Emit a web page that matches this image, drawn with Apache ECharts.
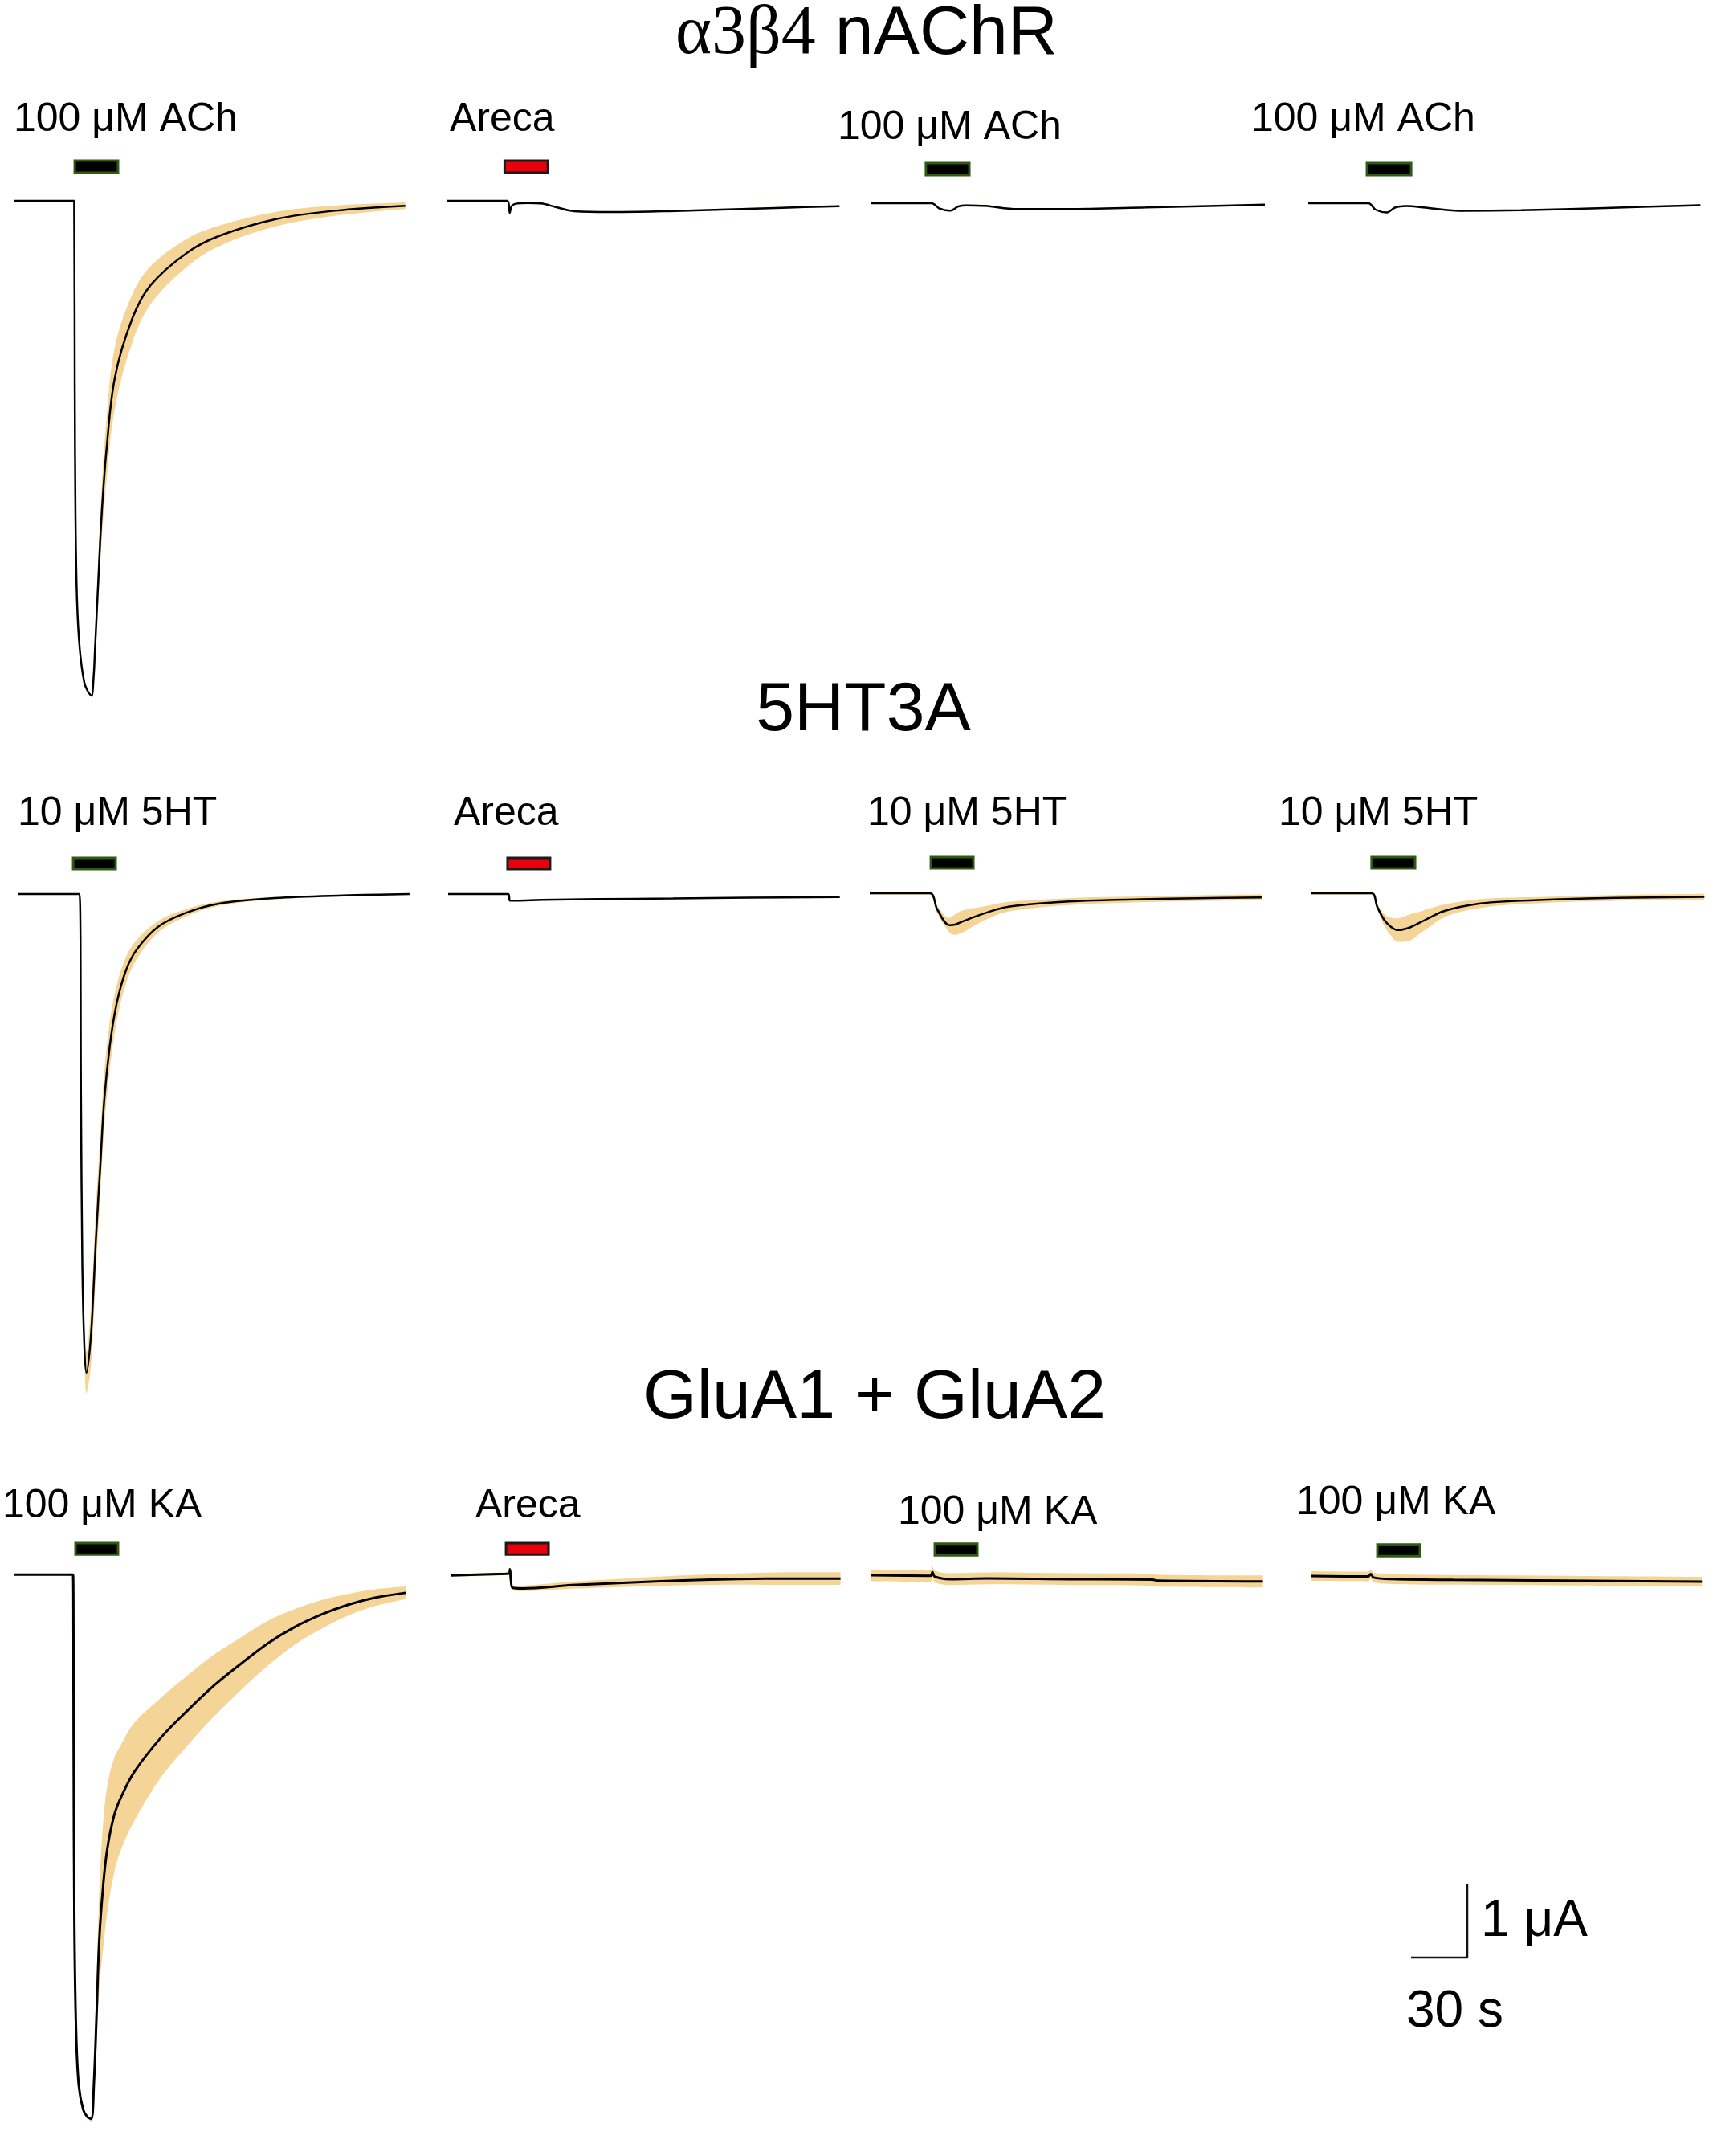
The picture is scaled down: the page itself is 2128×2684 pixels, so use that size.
<!DOCTYPE html>
<html><head><meta charset="utf-8">
<script src="https://cdn.jsdelivr.net/npm/echarts@6/dist/echarts.min.js"></script>
<style>html,body{margin:0;padding:0;background:#fff}#c{width:2128px;height:2684px}</style>
</head><body><div id="c"></div>
<script>
// ===== DATA (time in s from trace start, current in µA, mean and SEM) =====
// Row 1: α3β4 nAChR
const r1p1_t    = [0, 32.3, 32.6, 33.0, 33.8, 35.3, 37.7, 39.8, 41.5, 42.7, 43.4, 45.1, 46.9, 49.5, 54.0, 63.3, 73.2, 93.1, 110.2, 140.0, 171.3, 209.0];
const r1p1_mean = [0, 0, -2.51, -4.32, -5.46, -6.14, -6.59, -6.72, -6.77, -6.50, -6.14, -5.23, -4.32, -3.42, -2.42, -1.61, -1.15, -0.70, -0.475, -0.25, -0.136, -0.068];
const r1p1_sem  = [0, 0, 0, 0, 0, 0, 0, 0, 0.02, 0.06, 0.12, 0.26, 0.36, 0.42, 0.42, 0.33, 0.26, 0.19, 0.14, 0.1, 0.07, 0.045];
const r1p2_t    = [0, 32.1, 33.3, 34.3, 37.1, 42.9, 50.0, 57.1, 64.3, 71.4, 92.9, 121.4, 150.0, 178.6, 209.3];
const r1p2_mean = [0, 0, -0.165, -0.073, -0.037, -0.03, -0.037, -0.08, -0.128, -0.147, -0.154, -0.139, -0.117, -0.095, -0.073];
const r1p2_sem  = [0, 0, 0.01, 0.012, 0.012, 0.012, 0.012, 0.012, 0.012, 0.012, 0.012, 0.012, 0.012, 0.012, 0.012];
const r1p3_t    = [0, 32.1, 36.4, 42.1, 46.4, 50.7, 60.7, 77.9, 103.6, 146.4, 210.0];
const r1p3_mean = [0, 0, -0.073, -0.103, -0.044, -0.029, -0.037, -0.081, -0.081, -0.059, -0.018];
const r1p3_sem  = [0, 0, 0.01, 0.012, 0.012, 0.012, 0.012, 0.012, 0.012, 0.01, 0.01];
const r1p4_t    = [0, 32.1, 35.9, 41.9, 46.4, 52.4, 61.4, 80.8, 113.7, 158.5, 209.3];
const r1p4_mean = [0, 0, -0.088, -0.127, -0.058, -0.038, -0.058, -0.104, -0.096, -0.065, -0.027];
const r1p4_sem  = [0, 0, 0.01, 0.012, 0.012, 0.012, 0.012, 0.012, 0.012, 0.01, 0.01];
// Row 2: 5HT3A
const r2p1_t    = [0, 33.0, 33.8, 34.5, 35.6, 36.7, 38.9, 40.4, 41.8, 44.0, 46.2, 49.2, 52.8, 58.0, 63.8, 74.8, 89.5, 107.9, 137.2, 173.9, 209.1];
const r2p1_mean = [0, 0, -2.82, -5.08, -6.2, -6.55, -6.11, -5.45, -4.70, -3.76, -2.82, -2.07, -1.50, -1.03, -0.75, -0.45, -0.26, -0.13, -0.056, -0.019, 0];
const r2p1_sem  = [0, 0, 0, 0, 0.12, 0.28, 0.4, 0.45, 0.45, 0.42, 0.38, 0.32, 0.25, 0.18, 0.13, 0.08, 0.05, 0.03, 0.015, 0.01, 0.01];
const r2p2_t    = [0, 32.1, 33.0, 36.0, 50.0, 80.0, 120.0, 160.0, 209.0];
const r2p2_mean = [0, 0, -0.09, -0.09, -0.08, -0.07, -0.06, -0.05, -0.04];
const r2p2_sem  = [0, 0, 0.01, 0.01, 0.01, 0.01, 0.01, 0.01, 0.01];
const r2p3_t    = [0, 32.1, 36.0, 42.5, 45.5, 50.0, 55.9, 63.0, 70.8, 80.0, 94.6, 115.4, 145.1, 174.9, 209.1];
const r2p3_mean = [0, 0, -0.22, -0.436, -0.428, -0.38, -0.322, -0.26, -0.2, -0.165, -0.133, -0.102, -0.083, -0.068, -0.057];
const r2p3_sem  = [0.02, 0.02, 0.05, 0.1, 0.14, 0.15, 0.12, 0.09, 0.07, 0.06, 0.05, 0.045, 0.04, 0.04, 0.04];
const r2p4_t    = [0, 32.1, 35.0, 38.7, 42.0, 46.1, 52.0, 58.0, 63.9, 70.0, 78.8, 90.0, 102.6, 132.3, 162.1, 209.7];
const r2p4_mean = [0, 0, -0.18, -0.36, -0.45, -0.504, -0.473, -0.40, -0.322, -0.25, -0.189, -0.14, -0.114, -0.083, -0.064, -0.049];
const r2p4_sem  = [0.02, 0.02, 0.04, 0.08, 0.12, 0.16, 0.18, 0.15, 0.12, 0.09, 0.07, 0.06, 0.05, 0.04, 0.04, 0.04];
// Row 3: GluA1 + GluA2
const r3p1_t    = [0, 31.7, 32.0, 32.4, 33.3, 34.7, 37.1, 39.3, 41.4, 42.8, 44.3, 45.7, 47.8, 50.0, 53.6, 57.1, 64.3, 78.5, 92.8, 107.1, 121.4, 135.7, 149.9, 164.2, 178.5, 192.8, 209.2];
const r3p1_mean = [0, 0, -2.36, -4.95, -6.50, -7.28, -7.64, -7.74, -7.77, -7.28, -6.24, -5.21, -4.43, -3.91, -3.44, -3.19, -2.82, -2.33, -1.94, -1.58, -1.27, -0.98, -0.75, -0.57, -0.43, -0.33, -0.26];
const r3p1_sem  = [0, 0, 0, 0, 0, 0, 0, 0, 0.05, 0.2, 0.45, 0.7, 0.9, 0.9, 0.82, 0.75, 0.7, 0.57, 0.5, 0.44, 0.375, 0.32, 0.255, 0.205, 0.155, 0.12, 0.09];
const r3p2_t    = [0, 29.5, 31.3, 31.7, 32.2, 33.2, 38.4, 64.9, 94.5, 124.0, 153.5, 183.0, 208.1];
const r3p2_mean = [-0.011, 0.011, 0.019, 0.076, -0.076, -0.189, -0.197, -0.151, -0.114, -0.083, -0.064, -0.057, -0.057];
const r3p2_sem  = [0.02, 0.02, 0.02, 0.02, 0.02, 0.03, 0.04, 0.05, 0.06, 0.07, 0.08, 0.09, 0.09];
const r3p3_t    = [0, 32.1, 33.0, 34.2, 42.3, 62.8, 106.6, 150.4, 153.3, 209.4];
const r3p3_mean = [0, -0.007, 0.048, -0.018, -0.055, -0.044, -0.055, -0.062, -0.077, -0.088];
const r3p3_sem  = [0.085, 0.085, 0.085, 0.085, 0.085, 0.085, 0.085, 0.085, 0.085, 0.085];
const r3p4_t    = [0, 30.7, 32.1, 33.6, 43.8, 75.9, 134.3, 208.8];
const r3p4_mean = [0, -0.007, 0.029, -0.022, -0.044, -0.055, -0.066, -0.081];
const r3p4_sem  = [0.07, 0.07, 0.07, 0.07, 0.07, 0.07, 0.07, 0.07];

// Drug application periods [start, end] in s
const r1_bars = [[32.6, 55.7], [30.6, 53.7], [29.1, 52.3], [31.3, 54.9]];
const r2_bars = [[29.6, 52.3], [31.7, 54.4], [32.6, 55.3], [32.1, 55.3]];
const r3_bars = [[33.0, 55.7], [29.6, 52.3], [34.3, 57.0], [35.6, 58.3]];
const drugIsAreca = [false, true, false, false];

// Text
const rowTitles = ['{g|α3β4} {s|nAChR}', '5HT3A', 'GluA1 + GluA2'];
const r1_labels = ['100 μM ACh', 'Areca', '100 μM ACh', '100 μM ACh'];
const r2_labels = ['10 μM 5HT', 'Areca', '10 μM 5HT', '10 μM 5HT'];
const r3_labels = ['100 μM KA', 'Areca', '100 μM KA', '100 μM KA'];
const scaleBar = {seconds: 30, microamps: 1};
const scaleLabels = ['1 μA', '30 s'];

// ===== LAYOUT =====
const PXS = 70 / 30;   // px per second
const PXA = 91;        // px per µA
const TMAX = 210, YMAX = 1.0;
const FONT = "'Liberation Sans', Arial, sans-serif";
const BAND = '#F4D597';
const SMOOTH = 0.35;

const rows = [
  {t:[r1p1_t,r1p2_t,r1p3_t,r1p4_t], m:[r1p1_mean,r1p2_mean,r1p3_mean,r1p4_mean], s:[r1p1_sem,r1p2_sem,r1p3_sem,r1p4_sem],
   bars:r1_bars, labels:r1_labels, x0:[17,557,1085,1629], base:[250,250,253,253], barPx:[50,35], ymin:-7.3,
   lab:[[17,149],[560,149],[1043,159],[1558,149]], title:[1079,43], lw:2.5},
  {t:[r2p1_t,r2p2_t,r2p3_t,r2p4_t], m:[r2p1_mean,r2p2_mean,r2p3_mean,r2p4_mean], s:[r2p1_sem,r2p2_sem,r2p3_sem,r2p4_sem],
   bars:r2_bars, labels:r2_labels, x0:[22,558,1083,1633], base:[1113,1113,1112,1112], barPx:[45,31], ymin:-7.3,
   lab:[[22,1013],[565,1013],[1080,1013],[1592,1013]], title:[1075,885], lw:2.5},
  {t:[r3p1_t,r3p2_t,r3p3_t,r3p4_t], m:[r3p1_mean,r3p2_mean,r3p3_mean,r3p4_mean], s:[r3p1_sem,r3p2_sem,r3p3_sem,r3p4_sem],
   bars:r3_bars, labels:r3_labels, x0:[17,561,1084,1632], base:[1964,1964,1965,1966], barPx:[41,26], ymin:-8.3,
   lab:[[3,1875],[592,1875],[1118,1883],[1614,1871]], title:[1089,1741], lw:3}
];

const grid = [], xAxis = [], yAxis = [], series = [], graphic = [];
let gi = 0;
rows.forEach((row, r) => {
  graphic.push({type:'text', x:row.title[0], y:row.title[1], z:100, style:{
    text: rowTitles[r], align:'center', verticalAlign:'middle', fill:'#000',
    fontFamily: FONT, fontSize: 86,
    rich: {g:{fontFamily:"'Liberation Serif', 'Times New Roman', serif", fontSize:86, fill:'#000'},
           s:{fontFamily:FONT, fontSize:86, fill:'#000'}}
  }});
  for (let p = 0; p < 4; p++) {
    const t = row.t[p], m = row.m[p], s = row.s[p];
    grid.push({left: row.x0[p], top: row.base[p] - YMAX * PXA, width: TMAX * PXS, height: (YMAX - row.ymin) * PXA});
    xAxis.push({type:'value', gridIndex:gi, min:0, max:TMAX, show:false});
    yAxis.push({type:'value', gridIndex:gi, min:row.ymin, max:YMAX, show:false});
    // rows are [current, time]; encode maps column 1 -> x so the current column is the stacked one
    const lower = t.map((v, k) => [m[k] - s[k], v]);
    const span = t.map((v, k) => [2 * s[k], v]);
    const mean = t.map((v, k) => [v, m[k]]);
    const common = {type:'line', xAxisIndex:gi, yAxisIndex:gi, symbol:'none', smooth:SMOOTH, silent:true, animation:false, emphasis:{disabled:true}};
    series.push(Object.assign({}, common, {data:lower, encode:{x:1, y:0}, stack:'band'+gi, stackStrategy:'all', lineStyle:{opacity:0}, z:1}));
    series.push(Object.assign({}, common, {data:span, encode:{x:1, y:0}, stack:'band'+gi, stackStrategy:'all', lineStyle:{opacity:0}, areaStyle:{color:BAND, opacity:1}, z:1}));
    series.push(Object.assign({}, common, {data:mean, lineStyle:{color:'#000', width:row.lw}, z:3}));
    const red = drugIsAreca[p];
    const yTop = row.barPx[0] / PXA, yBot = row.barPx[1] / PXA;
    series.push({type:'custom', xAxisIndex:gi, yAxisIndex:gi, silent:true, animation:false, z:4,
      data:[row.bars[p]],
      renderItem: (params, api) => {
        const a = api.coord([api.value(0), yTop]);
        const b = api.coord([api.value(1), yBot]);
        return {type:'rect', shape:{x:a[0], y:a[1], width:b[0]-a[0], height:b[1]-a[1]},
          style: red ? {fill:'#E8000B', stroke:'#1a1a1a', lineWidth:3}
                     : {fill:'#000', stroke:'#2F5A14', lineWidth:3}};
      }});
    graphic.push({type:'text', x:row.lab[p][0], y:row.lab[p][1], z:100, style:{
      text: row.labels[p], align:'left', verticalAlign:'middle', fill:'#000', fontFamily:FONT, fontSize:50}});
    gi++;
  }
});

// Scale bar grid
grid.push({left:1757, top:2346, width:scaleBar.seconds * PXS, height:scaleBar.microamps * PXA});
xAxis.push({type:'value', gridIndex:gi, min:0, max:scaleBar.seconds, show:false});
yAxis.push({type:'value', gridIndex:gi, min:0, max:scaleBar.microamps, show:false});
series.push({type:'line', xAxisIndex:gi, yAxisIndex:gi, symbol:'none', silent:true, animation:false, clip:false,
  lineStyle:{color:'#111', width:2.5},
  data:[[0,0],[scaleBar.seconds,0],[scaleBar.seconds,scaleBar.microamps]]});
graphic.push({type:'text', x:1844, y:2392, z:100, style:{text:scaleLabels[0], align:'left', verticalAlign:'middle', fill:'#000', fontFamily:FONT, fontSize:64}});
graphic.push({type:'text', x:1751, y:2505, z:100, style:{text:scaleLabels[1], align:'left', verticalAlign:'middle', fill:'#000', fontFamily:FONT, fontSize:64}});

const chart = echarts.init(document.getElementById('c'), null, {renderer:'canvas'});
chart.setOption({backgroundColor:'#fff', animation:false, grid, xAxis, yAxis, series, graphic});
</script></body></html>
